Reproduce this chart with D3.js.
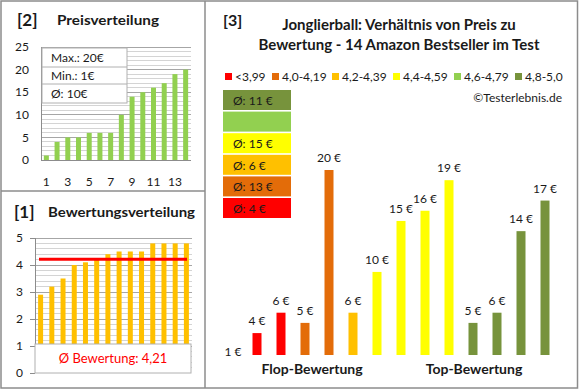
<!DOCTYPE html>
<html><head><meta charset="utf-8">
<script src="https://cdn.jsdelivr.net/npm/d3@7"></script>
<style>body{margin:0;background:#fff}svg{display:block;font-family:Lato,"Open Sans",sans-serif}</style>
</head><body><svg id="c" width="580" height="390"></svg>
<script>
// ---- data ----
const priceItems = [1,2,3,4,5,6,7,8,9,10,11,12,13,14];
const priceValues = [1,4,5,5,6,6,6,10,14,15,16,17,19,20];
const priceTicks = [0,5,10,15,20,25];
const priceXLabels = [1,3,5,7,9,11,13];
const ratingValues = [2.9,3.2,3.5,4.0,4.1,4.2,4.4,4.5,4.5,4.5,4.8,4.8,4.8,4.8];
const ratingTicks = [0,1,2,3,4,5];
const mainPrices = [1,4,6,5,20,6,10,15,16,19,5,6,14,17];
const mainGroups = [0,0,0,1,1,2,3,3,3,3,5,5,5,5];
const groupLabels = ["<3,99","4,0-4,19","4,2-4,39","4,4-4,59","4,6-4,79","4,8-5,0"];
const groupColors = ["#FF0000","#E36C09","#FFC000","#FFFF00","#92D050","#77933C"];

const svg = d3.select("#c");
const txt = "#1a1a1a";
svg.append("rect").attr("width",580).attr("height",390).attr("fill","#fff");

// ---- panel [2] Preisverteilung ----
{
  const x = d3.scaleBand().domain(priceItems).range([41,191]);
  const y = d3.scaleLinear().domain([0,25]).range([160,47]);
  const g = svg.append("g");
  d3.range(1,26).forEach(v=>{
    g.append("line").attr("x1",41).attr("x2",191).attr("y1",y(v)).attr("y2",y(v))
      .attr("stroke", v%5===0 ? "#a6a6a6" : "#d4d4d4").attr("stroke-width",1).attr("shape-rendering","crispEdges");
  });
  g.append("line").attr("x1",41).attr("x2",41).attr("y1",47).attr("y2",160).attr("stroke","#8c8c8c").attr("shape-rendering","crispEdges");
  g.append("line").attr("x1",41).attr("x2",191).attr("y1",160).attr("y2",160).attr("stroke","#8c8c8c").attr("shape-rendering","crispEdges");
  g.selectAll(".pb").data(priceValues).enter().append("rect")
    .attr("x",(d,i)=>x(priceItems[i])+x.bandwidth()/2-2.5).attr("width",5)
    .attr("y",d=>y(d)).attr("height",d=>y(0)-y(d)).attr("fill","#92D050");
  priceTicks.forEach(t=>{
    g.append("text").attr("x",29).attr("y",y(t)).attr("dy","0.35em").attr("text-anchor","end")
      .attr("font-size",12).attr("fill",txt).text(t);
  });
  priceXLabels.forEach(t=>{
    g.append("text").attr("x",x(t)+x.bandwidth()/2).attr("y",182).attr("dy","0.35em").attr("text-anchor","middle")
      .attr("font-size",12).attr("fill",txt).text(t);
  });
  // stats box
  const mx = d3.max(priceValues), mn = d3.min(priceValues), av = Math.round(d3.mean(priceValues));
  g.append("rect").attr("x",42).attr("y",48).attr("width",85).attr("height",55).attr("fill","#fff").attr("stroke","#b0b0b0");
  g.append("line").attr("x1",42).attr("x2",127).attr("y1",67).attr("y2",67).attr("stroke","#b0b0b0");
  g.append("line").attr("x1",42).attr("x2",127).attr("y1",84).attr("y2",84).attr("stroke","#b0b0b0");
  [["Max.: "+mx+"€",58],["Min.: "+mn+"€",76],["Ø: "+av+"€",94]].forEach(([s,yy])=>{
    g.append("text").attr("x",51).attr("y",yy).attr("dy","0.35em").attr("font-size",12).attr("fill",txt).text(s);
  });
  g.append("text").attr("x",17).attr("y",26).attr("font-size",17).attr("font-weight","bold").attr("fill",txt).text("[2]");
  g.append("text").attr("x",57).attr("y",25).attr("font-size",14).attr("font-weight","bold").attr("fill",txt)
    .attr("textLength",102).attr("lengthAdjust","spacingAndGlyphs").text("Preisverteilung");
}

// ---- panel [1] Bewertungsverteilung ----
{
  const x = d3.scaleBand().domain(priceItems).range([35,192]);
  const y = d3.scaleLinear().domain([0,5]).range([373,238]);
  const g = svg.append("g");
  d3.range(1,26).forEach(k=>{
    const v = k*0.2;
    g.append("line").attr("x1",35).attr("x2",192).attr("y1",y(v)).attr("y2",y(v))
      .attr("stroke", k%5===0 ? "#a6a6a6" : "#d4d4d4").attr("shape-rendering","crispEdges");
  });
  g.append("line").attr("x1",35).attr("x2",35).attr("y1",238).attr("y2",373).attr("stroke","#8c8c8c").attr("shape-rendering","crispEdges");
  ratingTicks.forEach(t=>{
    g.append("line").attr("x1",30).attr("x2",35).attr("y1",y(t)).attr("y2",y(t)).attr("stroke","#8c8c8c").attr("shape-rendering","crispEdges");
    g.append("text").attr("x",23).attr("y",y(t)).attr("dy","0.35em").attr("text-anchor","end")
      .attr("font-size",12).attr("fill",txt).text(t);
  });
  g.selectAll(".rb").data(ratingValues).enter().append("rect")
    .attr("x",(d,i)=>x(priceItems[i])+x.bandwidth()/2-2.5).attr("width",5)
    .attr("y",d=>y(d)).attr("height",d=>y(0)-y(d)).attr("fill","#FFC000");
  const avg = d3.mean(ratingValues);
  g.append("line").attr("x1",39).attr("x2",187).attr("y1",y(avg)).attr("y2",y(avg)).attr("stroke","#FF0000").attr("stroke-width",3);
  g.append("rect").attr("x",35).attr("y",344).attr("width",156).attr("height",29).attr("fill","#fff").attr("stroke","#b0b0b0");
  g.append("text").attr("x",113).attr("y",358.5).attr("dy","0.35em").attr("text-anchor","middle")
    .attr("font-size",13).attr("fill","#FF0000").text("Ø Bewertung: "+avg.toFixed(2).replace(".",","));
  g.append("text").attr("x",14).attr("y",218).attr("font-size",17).attr("font-weight","bold").attr("fill",txt).text("[1]");
  g.append("text").attr("x",48).attr("y",217).attr("font-size",14).attr("font-weight","bold").attr("fill",txt)
    .attr("textLength",147).attr("lengthAdjust","spacingAndGlyphs").text("Bewertungsverteilung");
}

// ---- panel [3] main ----
{
  const g = svg.append("g");
  const idx = d3.range(mainPrices.length);
  const x = d3.scaleBand().domain(idx).range([221,557]);
  const y = d3.scaleLinear().domain([1.85,20]).range([355,170]);
  g.append("text").attr("x",223).attr("y",26).attr("font-size",16).attr("font-weight","bold").attr("fill",txt).text("[3]");
  g.append("text").attr("x",399).attr("y",30).attr("text-anchor","middle").attr("font-size",15).attr("font-weight","bold").attr("fill",txt)
    .text("Jonglierball: Verhältnis von Preis zu");
  g.append("text").attr("x",399).attr("y",50).attr("text-anchor","middle").attr("font-size",15).attr("font-weight","bold").attr("fill",txt)
    .text("Bewertung - 14 Amazon Bestseller im Test");
  // legend
  const lx = [225,272,332,393,454,515];
  groupLabels.forEach((l,i)=>{
    g.append("rect").attr("x",lx[i]).attr("y",73).attr("width",7).attr("height",7).attr("fill",groupColors[i]);
    g.append("text").attr("x",lx[i]+10).attr("y",77).attr("dy","0.35em").attr("font-size",12).attr("fill",txt).text(l);
  });
  g.append("text").attr("x",562).attr("y",98).attr("dy","0.35em").attr("text-anchor","end").attr("font-size",12).attr("fill",txt).text("©Testerlebnis.de");
  // group averages
  const order = [5,4,3,2,1,0];
  order.forEach((gi,k)=>{
    const vals = mainPrices.filter((p,i)=>mainGroups[i]===gi);
    const yy = 90 + k*21.6;
    g.append("rect").attr("x",223).attr("y",yy).attr("width",68).attr("height",20).attr("fill",groupColors[gi]);
    if (vals.length) g.append("text").attr("x",233).attr("y",yy+10.5).attr("dy","0.35em").attr("font-size",12).attr("fill",txt)
      .text("Ø: "+Math.round(d3.mean(vals))+" €");
  });
  // bars
  g.selectAll(".mb").data(mainPrices).enter().append("rect")
    .attr("x",(d,i)=>x(i)+x.bandwidth()/2-4.5).attr("width",9)
    .attr("y",d=>Math.min(y(d),355)).attr("height",d=>Math.max(0,355-y(d)))
    .attr("fill",(d,i)=>groupColors[mainGroups[i]]);
  g.selectAll(".ml").data(mainPrices).enter().append("text")
    .attr("x",(d,i)=>x(i)+x.bandwidth()/2).attr("y",d=>y(d)-12).attr("dy","0.35em").attr("text-anchor","middle")
    .attr("font-size",12).attr("fill",txt).text(d=>d+" €");
  g.append("text").attr("x",312).attr("y",369).attr("dy","0.35em").attr("text-anchor","middle").attr("font-size",14).attr("font-weight","bold").attr("fill",txt).text("Flop-Bewertung");
  g.append("text").attr("x",474).attr("y",369).attr("dy","0.35em").attr("text-anchor","middle").attr("font-size",14).attr("font-weight","bold").attr("fill",txt).text("Top-Bewertung");
}

// ---- frame ----
const f = svg.append("g").attr("stroke","#8c8c8c").attr("stroke-width",1.5).attr("fill","none");
f.append("rect").attr("x",1).attr("y",1).attr("width",576.5).attr("height",387);
f.append("line").attr("x1",205).attr("x2",205).attr("y1",1).attr("y2",388);
f.append("line").attr("x1",1).attr("x2",205).attr("y1",191).attr("y2",191);
</script></body></html>
